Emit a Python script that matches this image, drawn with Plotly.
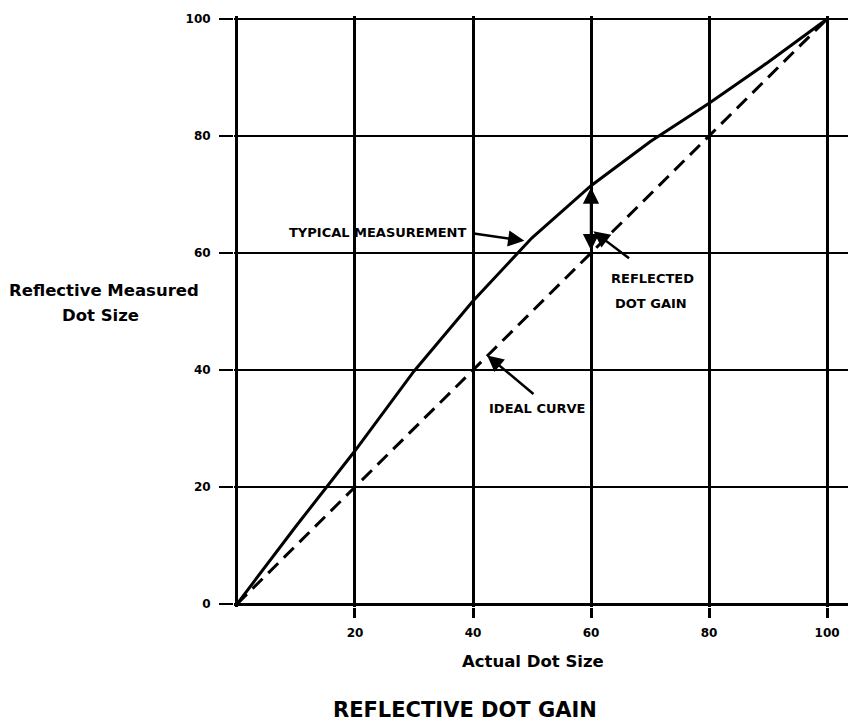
import plotly.graph_objects as go

# ---- data ----
actual_dot_size = [0, 10, 20, 30, 40, 50, 60, 70, 80, 90, 100]
measured_dot_size = [0, 13.3, 26.2, 39.8, 51.8, 62.6, 71.5, 79.0, 85.6, 92.6, 100]
ideal_x = [0, 100]
ideal_y = [0, 100]
x_tick_vals = [20, 40, 60, 80, 100]
x_tick_text = ["20", "40", "60", "80", "100"]
y_tick_vals = [0, 20, 40, 60, 80, 100]
y_tick_text = ["0", "20", "40", "60", "80", "100"]

FONT = "DejaVu Sans"

fig = go.Figure()
fig.add_trace(go.Scatter(x=ideal_x, y=ideal_y, mode="lines",
                         line=dict(color="black", width=3, dash="14px,8px"),
                         showlegend=False, hoverinfo="skip"))
fig.add_trace(go.Scatter(x=actual_dot_size, y=measured_dot_size, mode="lines",
                         line=dict(color="black", width=3),
                         showlegend=False, hoverinfo="skip"))

def txt(x, y, s, size=13, ref="x", **kw):
    fig.add_annotation(x=x, y=y, xref=ref if ref == "x" else "paper",
                       yref="y" if ref == "x" else "paper", text=s, showarrow=False,
                       xanchor="center", yanchor="middle",
                       font=dict(family=FONT, size=size, color="black", weight="bold"), **kw)

def arrow(x, y, ax, ay, side="end"):
    fig.add_annotation(x=x, y=y, ax=ax, ay=ay, xref="x", yref="y", axref="x", ayref="y",
                       text="", showarrow=True, arrowhead=2, arrowsize=1.3, arrowwidth=2.5,
                       arrowcolor="black", arrowside=side, startarrowhead=2, startarrowsize=1.3)

# labels inside plot
txt(23.8, 63.5, "TYPICAL MEASUREMENT", 13)
arrow(48.7, 62.1, 39.6, 63.4)
txt(50.9, 33.4, "IDEAL CURVE", 13)
arrow(42.4, 42.5, 50.5, 35.7)
txt(70.5, 55.6, "REFLECTED", 13)
txt(70.2, 51.4, "DOT GAIN", 13)
arrow(60.4, 63.7, 66.7, 58.9)
arrow(60, 71.2, 60, 60.2, side="end+start")

# axis titles and chart title (paper coordinates)
txt(0.481, -0.0924, "Actual Dot Size", 16.5, ref="paper")
txt(-0.2096, 0.536, "Reflective Measured", 16.5, ref="paper")
txt(-0.2145, 0.494, "Dot Size", 16.5, ref="paper")
txt(0.371, -0.1743, "REFLECTIVE DOT GAIN", 21, ref="paper")

fig.update_layout(
    width=856, height=725,
    margin=dict(l=225.5, r=8, t=4, b=126),
    paper_bgcolor="white", plot_bgcolor="white",
    font=dict(family=FONT, color="black"),
    xaxis=dict(range=[-0.5, 104.9], tickvals=x_tick_vals, ticktext=x_tick_text,
               showgrid=True, gridcolor="black", gridwidth=2.5,
               zeroline=True, zerolinecolor="black", zerolinewidth=3,
               showline=False, ticks="outside", ticklen=10, tickwidth=2.5, tickcolor="black",
               ticklabelstandoff=5,
               tickfont=dict(family=FONT, size=12, color="black", weight="bold")),
    yaxis=dict(range=[-0.5, 100.5], tickvals=y_tick_vals, ticktext=y_tick_text,
               showgrid=True, gridcolor="black", gridwidth=1.5,
               zeroline=True, zerolinecolor="black", zerolinewidth=3,
               showline=False, ticks="outside", ticklen=14, tickwidth=2, tickcolor="black",
               ticklabelstandoff=6,
               tickfont=dict(family=FONT, size=12, color="black", weight="bold")),
)

fig.write_html("out.html")
